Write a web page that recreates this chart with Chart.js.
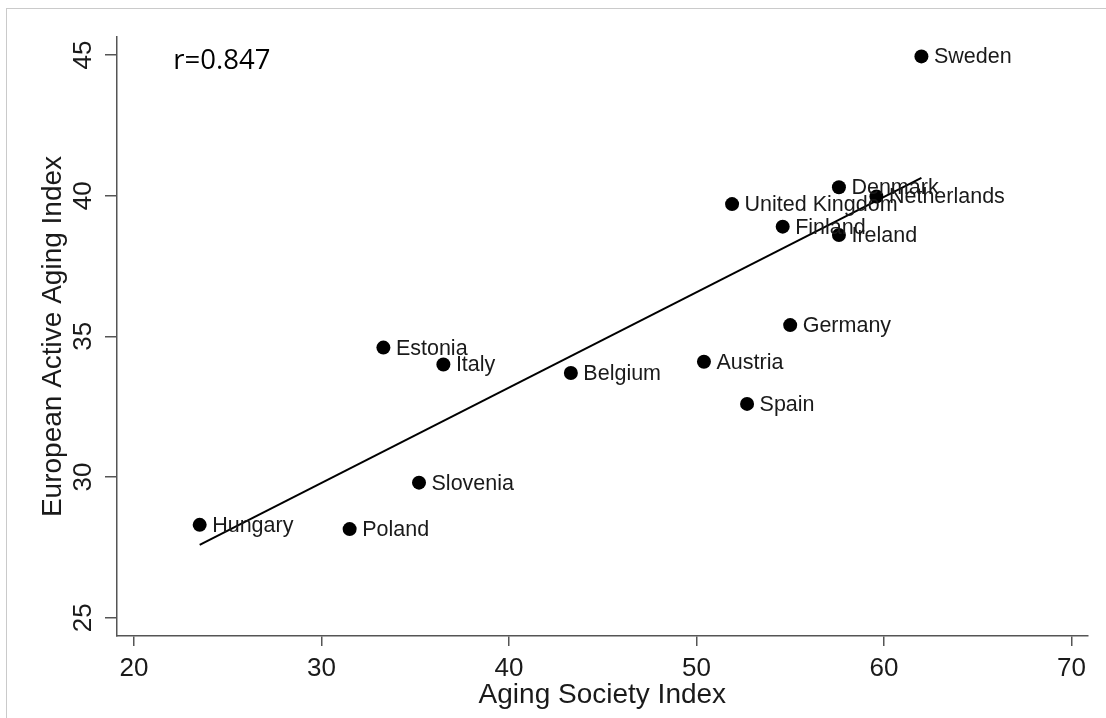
<!doctype html>
<html><head><meta charset="utf-8"><title>Active Aging vs Aging Society</title>
<script src="https://cdn.jsdelivr.net/npm/chart.js@4"></script>
<style>
  html, body { margin: 0; padding: 0; background: #fff; }
  #wrap { position: relative; width: 1106px; height: 718px; overflow: hidden; }
  /* light frame like the source picture */
  #frame { position: absolute; left: 6px; top: 8px; width: 1200px; height: 800px; border-left: 1px solid #cacaca; border-top: 1px solid #cacaca; }
  canvas { position: absolute; left: 0; top: 0; }
</style></head>
<body>
<div id="wrap"><div id="frame"></div><canvas id="c" width="1106" height="718"></canvas></div>
<script>
// country values
const countries = ['Sweden', 'Denmark', 'Netherlands', 'United Kingdom', 'Finland', 'Ireland', 'Germany',
  'Estonia', 'Italy', 'Belgium', 'Austria', 'Spain', 'Slovenia', 'Hungary', 'Poland']
const agingSociety = [62.0, 57.6, 59.6, 51.9, 54.6, 57.6, 55.0, 33.3, 36.5, 43.3, 50.4, 52.7, 35.2, 23.5, 31.5]
const activeAging = [44.95, 40.3, 39.97, 39.7, 38.9, 38.6, 35.4, 34.6, 34.0, 33.7, 34.1, 32.6, 29.8, 28.3, 28.15]

// fitted line end points
const fitX = [23.5, 62.0]
const fitY = [27.59, 40.63]

const xTicks = [20, 30, 40, 50, 60, 70]
const yTicks = [25, 30, 35, 40, 45]
const rText = 'r=0.847'

const FONT = '"Liberation Sans", Arial, sans-serif'
const AXIS = '#555'
const INK = '#1a1a1a'

// country names, rotated y tick labels and the r annotation
const labelPlugin = {
  id: 'pointLabels',
  afterDatasetsDraw(chart) {
    const ctx = chart.ctx
    const xs = chart.scales.x
    const ys = chart.scales.y
    const meta = chart.getDatasetMeta(1)
    ctx.save()
    ctx.fillStyle = INK
    ctx.font = '21.5px ' + FONT
    ctx.textAlign = 'left'
    ctx.textBaseline = 'middle'
    meta.data.forEach((pt, i) => ctx.fillText(countries[i], pt.x + 12.5, pt.y + 1))

    // y tick labels read bottom-to-top in the source
    ctx.font = '26px ' + FONT
    ctx.textAlign = 'center'
    for (const v of yTicks) {
      ctx.save()
      ctx.translate(ys.right - 33.5, ys.getPixelForValue(v))
      ctx.rotate(-Math.PI / 2)
      ctx.fillText(String(v), 0, 0)
      ctx.restore()
    }

    ctx.font = '27.5px "Open Sans", sans-serif'
    ctx.textAlign = 'left'
    ctx.textBaseline = 'alphabetic'
    ctx.fillStyle = '#000'
    ctx.fillText(rText, xs.getPixelForValue(22.2) - 2, ys.getPixelForValue(44.51))
    ctx.restore()
  }
}

new Chart(document.getElementById('c'), {
  type: 'scatter',
  data: {
    datasets: [
      {
        type: 'line',
        data: fitX.map((x, i) => ({ x, y: fitY[i] })),
        borderColor: '#000',
        borderWidth: 2,
        pointRadius: 0,
        fill: false,
        tension: 0
      },
      {
        data: agingSociety.map((x, i) => ({ x, y: activeAging[i] })),
        pointRadius: 7,
        backgroundColor: '#000',
        borderWidth: 0
      }
    ]
  },
  options: {
    responsive: false,
    animation: false,
    devicePixelRatio: 1,
    layout: { padding: { left: 0, top: 37, right: 18.3, bottom: 0 } },
    plugins: { legend: { display: false }, tooltip: { enabled: false } },
    scales: {
      x: {
        type: 'linear',
        min: 19.09,
        max: 70.87,
        afterBuildTicks: (s) => { s.ticks = xTicks.map((v) => ({ value: v })) },
        afterFit: (s) => { s.height = 82 },
        border: { display: true, color: AXIS, width: 1.5 },
        grid: { drawOnChartArea: false, drawTicks: true, tickLength: 10, color: AXIS, lineWidth: 1.5 },
        ticks: { font: { family: FONT, size: 26 }, color: INK, padding: 7, maxRotation: 0 },
        title: {
          display: true,
          text: 'Aging Society Index',
          font: { family: FONT, size: 28 },
          color: INK,
          padding: { top: 0, bottom: 6 }
        }
      },
      y: {
        type: 'linear',
        min: 24.35,
        max: 45.64,
        afterBuildTicks: (s) => { s.ticks = yTicks.map((v) => ({ value: v })) },
        afterFit: (s) => { s.width = 117 },
        border: { display: true, color: AXIS, width: 1.5 },
        grid: { drawOnChartArea: false, drawTicks: true, tickLength: 12, color: AXIS, lineWidth: 1.5 },
        ticks: { font: { family: FONT, size: 26 }, color: 'transparent' },
        title: {
          display: true,
          text: 'European Active Aging Index',
          font: { family: FONT, size: 28 },
          color: INK,
          padding: { top: 36.7, bottom: 0 }
        }
      }
    }
  },
  plugins: [labelPlugin]
})
</script>
</body></html>
